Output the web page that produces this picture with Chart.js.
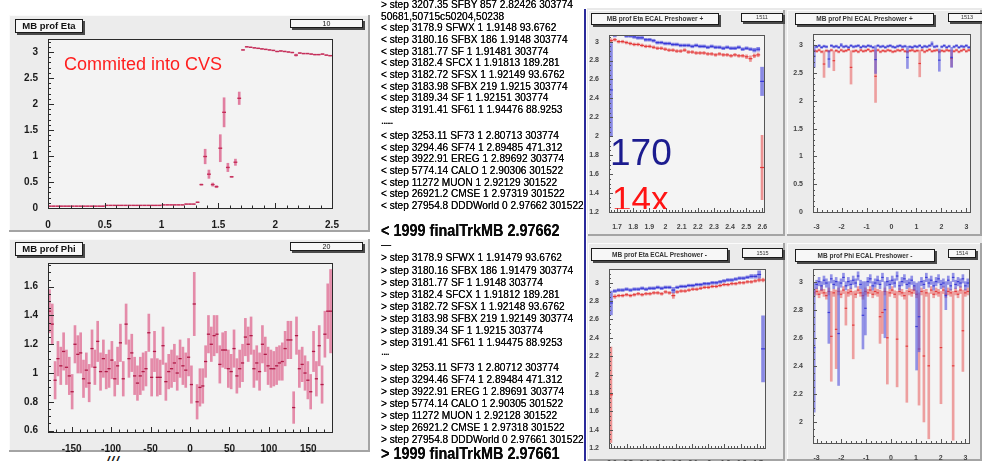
<!DOCTYPE html>
<html>
<head>
<meta charset="utf-8">
<script src="https://cdn.jsdelivr.net/npm/chart.js@4.4.1/dist/chart.umd.min.js"></script>
<style>
body{margin:0;width:982px;height:461px;overflow:hidden;background:#fff;position:relative;font-family:"Liberation Sans",Arial,sans-serif}
canvas{position:absolute}
.box{position:absolute;background:#f7f7f7;border:1px solid #1b1b1b;box-shadow:2px 2px 0 #4a4a4a;text-align:center;white-space:nowrap;overflow:hidden;color:#111}
#log{position:absolute;left:381px;top:0;width:203px;height:461px;overflow:hidden;color:#0a0a0a}
#log div{position:absolute;left:0;white-space:nowrap;transform-origin:0 50%;text-shadow:0 0 0.5px #000}
.small{font-size:11px;line-height:12px;transform:scaleX(.92)}
.big{font-size:16.5px;line-height:18px;font-weight:bold;transform:scaleX(.875)}
.note{position:absolute;white-space:nowrap}
</style>
</head>
<body>

<!-- right hand ROOT canvas background -->
<div style="position:absolute;left:587px;top:8px;width:395px;height:453px;background:#e9e9e9"></div>
<div style="position:absolute;left:584px;top:9px;width:2px;height:452px;background:#2b2b9b"></div>

<canvas id="cEta" width="361" height="217" style="left:9px;top:15px"></canvas>
<canvas id="cPhi" width="361" height="213" style="left:9px;top:239px"></canvas>
<canvas id="cEtaP" width="197" height="226" style="left:588px;top:10px"></canvas>
<canvas id="cPhiP" width="195" height="226" style="left:787px;top:10px"></canvas>
<canvas id="cEtaM" width="197" height="218" style="left:588px;top:243px"></canvas>
<canvas id="cPhiM" width="195" height="218" style="left:787px;top:243px"></canvas>

<!-- title and stat boxes -->
<div class="box" style="left:15px;top:19px;width:66px;height:12px;font:bold 9.5px/12px 'Liberation Sans',Arial">MB prof Eta</div>
<div class="box" style="left:290px;top:19px;width:71px;height:7px;font:7px/7px 'Liberation Sans',Arial">10</div>
<div class="box" style="left:15px;top:242px;width:66px;height:12px;font:bold 9.5px/12px 'Liberation Sans',Arial">MB prof Phi</div>
<div class="box" style="left:290px;top:242px;width:71px;height:7px;font:7px/7px 'Liberation Sans',Arial">20</div>

<div class="box" style="left:591px;top:13px;width:126px;height:10px;font:bold 6.5px/10px 'Liberation Sans',Arial;color:#333">MB prof Eta ECAL Preshower +</div>
<div class="box" style="left:741px;top:13px;width:40px;height:7px;font:5.5px/7px 'Liberation Sans',Arial;color:#333">1511</div>
<div class="box" style="left:795px;top:13px;width:137px;height:10px;font:bold 6.5px/10px 'Liberation Sans',Arial;color:#333">MB prof Phi ECAL Preshower +</div>
<div class="box" style="left:948px;top:13px;width:36px;height:7px;font:5.5px/7px 'Liberation Sans',Arial;color:#333">1513</div>
<div class="box" style="left:591px;top:248px;width:135px;height:11px;font:bold 6.5px/11px 'Liberation Sans',Arial;color:#333">MB prof Eta ECAL Preshower -</div>
<div class="box" style="left:742px;top:248px;width:39px;height:8px;font:5.5px/8px 'Liberation Sans',Arial;color:#333">1515</div>
<div class="box" style="left:795px;top:249px;width:138px;height:11px;font:bold 6.5px/11px 'Liberation Sans',Arial;color:#333">MB prof Phi ECAL Preshower -</div>
<div class="box" style="left:948px;top:249px;width:26px;height:7px;font:5.5px/7px 'Liberation Sans',Arial;color:#333">1514</div>

<div class="note" style="left:64px;top:55px;font-size:18px;line-height:18px;color:#ff1f1f">Commited into CVS</div>
<div class="note" style="left:610px;top:133.5px;font-size:37px;line-height:37px;color:#1c1c8f">170</div>
<div style="position:absolute;left:600px;top:170px;width:90px;height:39px;overflow:hidden">
  <div class="note" style="left:12px;top:10.5px;font-size:35px;line-height:35px;color:#ff1414">14x</div>
</div>
<div class="note" style="left:106px;top:454px;font:italic bold 13px/13px 'Liberation Sans',Arial;letter-spacing:1px;color:#111">///</div>

<div id="log"></div>

<script>
// ---------------- DATA ----------------

// MB prof Eta : 75 bins between 0 and 2.5
const etaBins = [0, 2.5, 75]
const etaValues = [
  0.035, 0.035, 0.035, 0.035, 0.035, 0.035, 0.035, 0.035, 0.035, 0.035,
  0.035, 0.035, 0.035, 0.035, 0.035, 0.05, 0.05, 0.05, 0.05, 0.05,
  0.05, 0.05, 0.05, 0.05, 0.05, 0.05, 0.05, 0.05, 0.05, 0.05,
  0.06, 0.06, 0.06, 0.06, 0.06, 0.06, 0.075, 0.075, 0.075, 0.11,
  0.45, 0.99, 0.65, 0.45, 0.41, 1.15, 1.84, 0.78, 0.60, 0.88,
  2.11, 3.04, 3.10, 3.09, 3.08, 3.07, 3.06, 3.05, 3.04, 3.03,
  3.01, 3.02, 3.01, 3.00, 2.99, 2.94, 2.98, 2.97, 2.97, 2.96,
  2.95, 2.95, 2.96, 2.94, 2.93
]
const etaErrors = [
  0.004, 0.004, 0.004, 0.004, 0.004, 0.004, 0.004, 0.004, 0.004, 0.004,
  0.004, 0.004, 0.004, 0.004, 0.004, 0.004, 0.004, 0.004, 0.004, 0.004,
  0.004, 0.004, 0.004, 0.004, 0.004, 0.004, 0.004, 0.004, 0.004, 0.004,
  0.004, 0.004, 0.004, 0.004, 0.004, 0.004, 0.004, 0.004, 0.004, 0.006,
  0.01, 0.14, 0.08, 0.03, 0.02, 0.26, 0.28, 0.08, 0.01, 0.06,
  0.12, 0.006, 0.006, 0.006, 0.006, 0.006, 0.006, 0.006, 0.006, 0.006,
  0.006, 0.006, 0.006, 0.006, 0.006, 0.02, 0.006, 0.006, 0.006, 0.006,
  0.006, 0.006, 0.006, 0.006, 0.006
]

// MB prof Phi : 100 bins between -180 and 180
const phiBins = [-180, 180, 100]
const phiValues = [
  1.43, 1.34, 0.95, 1.10, 1.05, 1.15, 1.04, 0.98, 0.87, 1.20,
  1.13, 1.14, 0.96, 1.02, 0.93, 1.17, 1.04, 1.22, 1.01, 1.10,
  1.01, 1.03, 1.09, 0.96, 1.05, 1.21, 0.96, 1.34, 1.10, 1.14,
  0.98, 0.93, 0.98, 1.01, 1.03, 1.28, 0.97, 1.15, 0.97, 0.97,
  1.19, 0.94, 1.01, 1.03, 1.07, 1.00, 1.10, 1.05, 1.02, 1.11,
  0.92, 1.48, 0.80, 0.90, 0.91, 1.08, 1.27, 1.20, 1.26, 1.27,
  1.06, 1.16, 1.16, 1.03, 1.01, 1.17, 0.98, 1.03, 1.07, 1.25,
  1.20, 1.26, 1.03, 1.07, 1.01, 1.20, 1.13, 1.05, 1.03, 1.03,
  1.05, 1.07, 1.08, 1.17, 1.23, 1.23, 0.76, 1.26, 1.03, 1.06,
  1.00, 0.95, 0.87, 1.15, 0.96, 1.19, 0.92, 1.27, 1.43, 1.43
]
const phiErrors = [
  0.15, 0.14, 0.13, 0.12, 0.13, 0.13, 0.12, 0.13, 0.12, 0.13,
  0.13, 0.14, 0.13, 0.12, 0.13, 0.13, 0.12, 0.14, 0.13, 0.13,
  0.12, 0.13, 0.13, 0.12, 0.13, 0.13, 0.12, 0.14, 0.13, 0.13,
  0.13, 0.12, 0.13, 0.13, 0.12, 0.13, 0.13, 0.14, 0.13, 0.12,
  0.13, 0.13, 0.12, 0.13, 0.13, 0.12, 0.13, 0.13, 0.12, 0.13,
  0.13, 0.22, 0.12, 0.13, 0.12, 0.11, 0.13, 0.12, 0.14, 0.13,
  0.13, 0.12, 0.13, 0.13, 0.12, 0.13, 0.12, 0.13, 0.13, 0.13,
  0.12, 0.13, 0.13, 0.12, 0.13, 0.13, 0.12, 0.13, 0.13, 0.12,
  0.13, 0.12, 0.13, 0.12, 0.13, 0.13, 0.11, 0.13, 0.13, 0.12,
  0.12, 0.13, 0.12, 0.14, 0.12, 0.14, 0.13, 0.16, 0.19, 0.29
]

// ECAL Preshower + / - eta profiles : 40 bins, blue = 170, red = 14x
const esEtaPlusBins = [1.65, 2.61, 40]
const esEtaPlusBlue = [
  2.49, 3.07, 3.09, 3.08, 3.06, 3.06, 3.05, 3.04, 3.04, 3.02,
  3.02, 3.01, 2.99, 2.99, 2.98, 2.98, 2.97, 2.97, 2.96, 2.96,
  2.96, 2.95, 2.96, 2.95, 2.95, 2.94, 2.95, 2.94, 2.94, 2.93,
  2.94, 2.93, 2.93, 2.94, 2.92, 2.93, 2.92, 2.91, 2.92, 2.58
]
const esEtaPlusBlueErr = [
  0.49, 0.02, 0.015, 0.015, 0.015, 0.015, 0.015, 0.015, 0.015, 0.015,
  0.015, 0.015, 0.015, 0.015, 0.015, 0.015, 0.015, 0.015, 0.015, 0.015,
  0.015, 0.015, 0.015, 0.015, 0.015, 0.015, 0.015, 0.015, 0.015, 0.015,
  0.015, 0.015, 0.015, 0.015, 0.015, 0.015, 0.015, 0.02, 0.02, 0.15
]
const esEtaPlusRed = [
  3.01, 3.02, 3.00, 3.00, 2.99, 2.98, 2.97, 2.97, 2.96, 2.95,
  2.95, 2.94, 2.93, 2.93, 2.92, 2.91, 2.91, 2.90, 2.90, 2.91,
  2.89, 2.89, 2.88, 2.88, 2.88, 2.87, 2.87, 2.86, 2.87, 2.86,
  2.86, 2.85, 2.86, 2.85, 2.85, 2.84, 2.82, 2.85, 2.86, 1.67
]
const esEtaPlusRedErr = [
  0.02, 0.015, 0.015, 0.015, 0.015, 0.015, 0.015, 0.015, 0.015, 0.015,
  0.015, 0.015, 0.015, 0.015, 0.015, 0.015, 0.015, 0.015, 0.015, 0.015,
  0.015, 0.015, 0.015, 0.015, 0.015, 0.015, 0.015, 0.015, 0.015, 0.015,
  0.015, 0.015, 0.015, 0.015, 0.015, 0.02, 0.03, 0.02, 0.02, 0.34
]
const esEtaMinusBins = [-2.61, -1.65, 40]
const esEtaMinusBlue = [
  2.78, 2.91, 2.92, 2.92, 2.93, 2.92, 2.93, 2.93, 2.94, 2.93,
  2.94, 2.94, 2.95, 2.94, 2.95, 2.95, 2.92, 2.95, 2.96, 2.96,
  2.97, 2.97, 2.98, 2.98, 2.99, 2.99, 3.00, 3.00, 3.01, 3.02,
  3.03, 3.03, 3.04, 3.05, 3.05, 3.06, 3.07, 3.07, 3.09, 2.28
]
const esEtaMinusBlueErr = [
  0.13, 0.015, 0.015, 0.015, 0.015, 0.015, 0.015, 0.015, 0.015, 0.015,
  0.015, 0.015, 0.015, 0.015, 0.015, 0.015, 0.03, 0.015, 0.015, 0.015,
  0.015, 0.015, 0.015, 0.015, 0.015, 0.015, 0.015, 0.015, 0.015, 0.015,
  0.015, 0.015, 0.015, 0.015, 0.015, 0.015, 0.02, 0.02, 0.04, 0.36
]
const esEtaMinusRed = [
  1.78, 2.85, 2.86, 2.86, 2.87, 2.86, 2.87, 2.88, 2.87, 2.88,
  2.88, 2.89, 2.89, 2.88, 2.90, 2.89, 2.86, 2.90, 2.91, 2.91,
  2.92, 2.93, 2.93, 2.94, 2.95, 2.95, 2.96, 2.96, 2.97, 2.98,
  2.98, 2.99, 2.99, 3.00, 3.00, 3.01, 3.01, 3.02, 3.03, 3.03
]
const esEtaMinusRedErr = [
  0.52, 0.02, 0.015, 0.015, 0.015, 0.015, 0.015, 0.015, 0.015, 0.015,
  0.015, 0.015, 0.015, 0.015, 0.015, 0.015, 0.03, 0.015, 0.015, 0.015,
  0.015, 0.015, 0.015, 0.015, 0.015, 0.015, 0.015, 0.015, 0.015, 0.015,
  0.015, 0.015, 0.015, 0.015, 0.015, 0.015, 0.015, 0.015, 0.02, 0.02
]

// ECAL Preshower + / - phi profiles : 64 bins between -pi and pi
const esPhiBins = [-Math.PI, Math.PI, 64]
const esPhiPlusBlue = [
  2.80, 2.97, 2.99, 2.96, 2.98, 2.97, 2.75, 2.99, 2.97, 2.98,
  2.96, 3.00, 2.97, 2.98, 2.96, 2.99, 2.97, 2.98, 2.99, 2.96,
  2.98, 2.97, 2.99, 2.98, 2.96, 2.74, 2.99, 2.97, 2.98, 2.96,
  2.98, 2.99, 2.97, 2.96, 2.98, 2.99, 2.97, 2.98, 2.78, 2.97,
  2.96, 2.98, 2.97, 2.99, 2.96, 2.98, 2.97, 2.99, 3.02, 2.97,
  2.98, 2.73, 2.97, 2.99, 2.96, 2.98, 2.78, 2.97, 2.99, 2.96,
  2.98, 2.97, 2.99, 2.96
]
const esPhiPlusBlueErr = [
  0.20, 0.02, 0.02, 0.02, 0.02, 0.02, 0.15, 0.02, 0.02, 0.02,
  0.02, 0.03, 0.02, 0.02, 0.02, 0.02, 0.02, 0.02, 0.02, 0.02,
  0.02, 0.02, 0.02, 0.02, 0.02, 0.25, 0.02, 0.02, 0.02, 0.02,
  0.02, 0.02, 0.02, 0.02, 0.02, 0.02, 0.02, 0.02, 0.20, 0.02,
  0.02, 0.02, 0.02, 0.02, 0.02, 0.02, 0.02, 0.02, 0.04, 0.02,
  0.02, 0.20, 0.02, 0.02, 0.02, 0.02, 0.18, 0.02, 0.02, 0.02,
  0.02, 0.02, 0.02, 0.02
]
const esPhiPlusRed = [
  2.90, 2.89, 2.91, 2.88, 2.66, 2.90, 2.89, 2.91, 2.72, 2.90,
  2.88, 2.91, 2.89, 2.90, 2.92, 2.60, 2.89, 2.90, 2.88, 2.91,
  2.89, 2.90, 2.92, 2.89, 2.90, 2.44, 2.91, 2.88, 2.90, 2.89,
  2.91, 2.90, 2.88, 2.89, 2.91, 2.90, 2.92, 2.89, 2.88, 2.90,
  2.91, 2.89, 2.90, 2.67, 2.91, 2.88, 2.90, 2.92, 2.89, 2.90,
  2.91, 2.88, 2.90, 2.89, 2.91, 2.90, 2.76, 2.89, 2.91, 2.88,
  2.90, 2.92, 2.89, 2.91
]
const esPhiPlusRedErr = [
  0.02, 0.02, 0.02, 0.02, 0.24, 0.02, 0.02, 0.02, 0.18, 0.02,
  0.02, 0.02, 0.02, 0.02, 0.02, 0.30, 0.02, 0.02, 0.02, 0.02,
  0.02, 0.02, 0.02, 0.02, 0.02, 0.47, 0.02, 0.02, 0.02, 0.02,
  0.02, 0.02, 0.02, 0.02, 0.02, 0.02, 0.02, 0.02, 0.02, 0.02,
  0.02, 0.02, 0.02, 0.24, 0.02, 0.02, 0.02, 0.02, 0.02, 0.02,
  0.02, 0.02, 0.02, 0.02, 0.02, 0.02, 0.15, 0.02, 0.02, 0.02,
  0.02, 0.02, 0.02, 0.02
]
const esPhiMinusBlue = [
  2.53, 2.98, 3.00, 2.97, 3.01, 2.99, 2.78, 3.02, 2.98, 3.00,
  2.63, 2.99, 3.03, 2.97, 3.00, 2.98, 3.01, 2.99, 3.04, 2.98,
  2.76, 2.81, 3.00, 3.02, 2.97, 2.99, 3.01, 2.98, 3.03, 2.80,
  3.00, 2.98, 3.01, 2.99, 3.04, 2.97, 3.00, 3.02, 2.98, 2.99,
  3.01, 2.97, 2.68, 2.75, 3.00, 2.98, 3.03, 2.99, 3.01, 2.97,
  3.00, 3.02, 2.98, 2.99, 2.90, 3.01, 2.97, 3.03, 2.98, 3.00,
  2.99, 3.02, 2.97, 2.99
]
const esPhiMinusBlueErr = [
  0.46, 0.03, 0.03, 0.03, 0.03, 0.03, 0.22, 0.03, 0.03, 0.03,
  0.37, 0.03, 0.03, 0.03, 0.03, 0.03, 0.03, 0.03, 0.03, 0.03,
  0.24, 0.19, 0.03, 0.03, 0.03, 0.03, 0.03, 0.03, 0.03, 0.20,
  0.03, 0.03, 0.03, 0.03, 0.03, 0.03, 0.03, 0.03, 0.03, 0.03,
  0.03, 0.03, 0.31, 0.25, 0.03, 0.03, 0.03, 0.03, 0.03, 0.03,
  0.03, 0.03, 0.03, 0.03, 0.10, 0.03, 0.03, 0.03, 0.03, 0.03,
  0.03, 0.03, 0.03, 0.03
]
const esPhiMinusRed = [
  2.92, 2.93, 2.91, 2.94, 2.92, 2.90, 2.93, 2.61, 2.92, 2.66,
  2.93, 2.91, 2.94, 2.81, 2.92, 2.93, 2.69, 2.91, 2.94, 2.92,
  2.90, 2.93, 2.92, 2.94, 2.91, 2.93, 2.92, 2.75, 2.78, 2.93,
  2.60, 2.92, 2.94, 2.91, 2.59, 2.93, 2.92, 2.90, 2.54, 2.93,
  2.92, 2.94, 2.91, 2.52, 2.93, 2.47, 2.92, 2.40, 2.94, 2.91,
  2.93, 2.92, 2.53, 2.94, 2.91, 2.93, 2.92, 2.40, 2.93, 2.91,
  2.94, 2.65, 2.92, 2.93
]
const esPhiMinusRedErr = [
  0.025, 0.025, 0.025, 0.025, 0.025, 0.025, 0.025, 0.32, 0.025, 0.28,
  0.025, 0.025, 0.025, 0.12, 0.025, 0.025, 0.24, 0.025, 0.025, 0.025,
  0.025, 0.025, 0.025, 0.025, 0.025, 0.025, 0.025, 0.19, 0.15, 0.025,
  0.33, 0.025, 0.025, 0.025, 0.34, 0.025, 0.025, 0.025, 0.40, 0.025,
  0.025, 0.025, 0.025, 0.40, 0.025, 0.47, 0.025, 0.52, 0.025, 0.025,
  0.025, 0.025, 0.40, 0.025, 0.025, 0.025, 0.025, 0.53, 0.025, 0.025,
  0.025, 0.29, 0.025, 0.025
]

// text of the diff in the middle (text, centre y, style)
const logLines = [
  ['> step 3207.35 SFBY 857 2.82426 303774', 4, 'small'],
  ['50681,50715c50204,50238', 15.7, 'small'],
  ['< step 3178.9 SFWX 1 1.9148 93.6762', 27.3, 'small'],
  ['< step 3180.16 SFBX 186 1.9148 303774', 39, 'small'],
  ['< step 3181.77 SF 1 1.91481 303774', 50.7, 'small'],
  ['< step 3182.4 SFCX 1 1.91813 189.281', 62.3, 'small'],
  ['< step 3182.72 SFSX 1 1.92149 93.6762', 74, 'small'],
  ['< step 3183.98 SFBX 219 1.9215 303774', 85.7, 'small'],
  ['< step 3189.34 SF 1 1.92151 303774', 97.3, 'small'],
  ['< step 3191.41 SF61 1 1.94476 88.9253', 109, 'small'],
  ['......', 119.5, 'dots'],
  ['< step 3253.11 SF73 1 2.80713 303774', 135, 'small'],
  ['< step 3294.46 SF74 1 2.89485 471.312', 146.7, 'small'],
  ['< step 3922.91 EREG 1 2.89692 303774', 158.3, 'small'],
  ['< step 5774.14 CALO 1 2.90306 301522', 170, 'small'],
  ['< step 11272 MUON 1 2.92129 301522', 181.7, 'small'],
  ['< step 26921.2 CMSE 1 2.97319 301522', 193.3, 'small'],
  ['< step 27954.8 DDDWorld 0 2.97662 301522', 205, 'small'],
  ['< 1999 finalTrkMB 2.97662', 230, 'big'],
  ['\u2014', 243.5, 'small'],
  ['> step 3178.9 SFWX 1 1.91479 93.6762', 257, 'small'],
  ['> step 3180.16 SFBX 186 1.91479 303774', 269.5, 'small'],
  ['> step 3181.77 SF 1 1.9148 303774', 281.7, 'small'],
  ['> step 3182.4 SFCX 1 1.91812 189.281', 293.5, 'small'],
  ['> step 3182.72 SFSX 1 1.92148 93.6762', 305.7, 'small'],
  ['> step 3183.98 SFBX 219 1.92149 303774', 317.7, 'small'],
  ['> step 3189.34 SF 1 1.9215 303774', 329.5, 'small'],
  ['> step 3191.41 SF61 1 1.94475 88.9253', 341.7, 'small'],
  ['....', 350.5, 'dots'],
  ['> step 3253.11 SF73 1 2.80712 303774', 366.7, 'small'],
  ['> step 3294.46 SF74 1 2.89484 471.312', 378.5, 'small'],
  ['> step 3922.91 EREG 1 2.89691 303774', 390.5, 'small'],
  ['> step 5774.14 CALO 1 2.90305 301522', 402.7, 'small'],
  ['> step 11272 MUON 1 2.92128 301522', 414.5, 'small'],
  ['> step 26921.2 CMSE 1 2.97318 301522', 426.7, 'small'],
  ['> step 27954.8 DDDWorld 0 2.97661 301522', 438.5, 'small'],
  ['> 1999 finalTrkMB 2.97661', 453, 'big']
]

// ---------------- TEXT COLUMN ----------------
const log = document.getElementById('log')
for (let i = 0; i < logLines.length; i++) {
  const d = document.createElement('div')
  const kind = logLines[i][2]
  d.textContent = logLines[i][0]
  if (kind == 'big') {
    d.className = 'big'
    d.style.top = (logLines[i][1] - 8.8) + 'px'
  } else {
    d.className = 'small'
    d.style.top = (logLines[i][1] - 5.9) + 'px'
    if (kind == 'dots') d.style.letterSpacing = '-1px'
  }
  log.appendChild(d)
}

// ---------------- CHARTS ----------------

// ROOT like pad: grey pad, frame, ticks pointing inside the frame
function drawTicks(ctx, scale, area, minor, len, dir) {
  const major = scale.ticks.map(t => t.value)
  if (major.length < 2) return
  const step = (major[1] - major[0]) / minor
  ctx.beginPath()
  for (let k = -2 * minor; k <= (major.length + 1) * minor; k++) {
    const v = major[0] + k * step
    if (v < scale.min - 1e-9 || v > scale.max + 1e-9) continue
    const p = Math.round(scale.getPixelForValue(v)) + 0.5
    const l = (k % minor === 0) ? len : len / 2
    if (dir == 'x') { ctx.moveTo(p, area.bottom); ctx.lineTo(p, area.bottom - l) }
    else { ctx.moveTo(area.left, p); ctx.lineTo(area.left + l, p) }
  }
  ctx.stroke()
}

const rootFrame = {
  id: 'rootFrame',
  beforeDraw(chart, args, o) {
    const ctx = chart.ctx
    const a = chart.chartArea
    ctx.save()
    ctx.fillStyle = o.pad
    ctx.fillRect(0, 0, chart.width, chart.height)
    // bevel of the pad
    ctx.fillStyle = '#fbfbfb'
    ctx.fillRect(0, 0, chart.width, 1)
    ctx.fillRect(0, 0, 1, chart.height)
    ctx.fillStyle = '#a4a4a4'
    ctx.fillRect(0, chart.height - 2, chart.width, 2)
    ctx.fillRect(chart.width - 2, 0, 2, chart.height)
    ctx.fillStyle = o.inner
    ctx.fillRect(a.left, a.top, a.right - a.left, a.bottom - a.top)
    ctx.restore()
  },
  afterDraw(chart, args, o) {
    const ctx = chart.ctx
    const a = chart.chartArea
    ctx.save()
    ctx.strokeStyle = o.line
    ctx.lineWidth = 1
    ctx.strokeRect(Math.round(a.left) + 0.5, Math.round(a.top) + 0.5, Math.round(a.right - a.left), Math.round(a.bottom - a.top))
    drawTicks(ctx, chart.scales.x, a, o.minorX, o.tickX, 'x')
    drawTicks(ctx, chart.scales.y, a, o.minorY, o.tickY, 'y')
    ctx.restore()
  }
}

function binCenters(bins) {
  const w = (bins[1] - bins[0]) / bins[2]
  const c = []
  for (let i = 0; i < bins[2]; i++) c.push(bins[0] + w * (i + 0.5))
  return c
}

// one profile = floating bars for the errors + short horizontal marks for the bin contents
function profile(bins, values, errors, st) {
  const xs = binCenters(bins)
  return [
    {
      type: 'bar',
      data: xs.map((x, i) => ({x: x, y: [values[i] - errors[i], values[i] + errors[i]]})),
      backgroundColor: st.bar,
      barThickness: st.thick,
      borderWidth: 0,
      grouped: false,
      order: st.order + 1
    },
    {
      type: 'scatter',
      data: xs.map((x, i) => ({x: x, y: values[i]})),
      pointStyle: 'line',
      pointRadius: st.half,
      pointBorderColor: st.mark,
      pointBorderWidth: st.lw,
      showLine: false,
      order: st.order
    }
  ]
}

const fmt = v => String(+v.toFixed(2))

function makePanel(id, datasets, ax, frame, look) {
  return new Chart(document.getElementById(id), {
    type: 'scatter',
    data: {datasets: datasets},
    plugins: [rootFrame],
    options: {
      responsive: false,
      animation: false,
      events: [],
      layout: {padding: {top: frame.top, right: frame.right, left: 0, bottom: 0}},
      plugins: {
        legend: {display: false},
        tooltip: {enabled: false},
        rootFrame: {pad: look.pad, inner: look.inner, line: look.line,
          minorX: ax.minorX, minorY: ax.minorY, tickX: look.tickX, tickY: look.tickY}
      },
      scales: {
        x: {
          type: 'linear', min: ax.xMin, max: ax.xMax, offset: false,
          grid: {display: false}, border: {display: false},
          ticks: {stepSize: ax.xStep, includeBounds: false, autoSkip: false, maxRotation: 0,
            padding: look.padX, color: look.text, font: look.font, callback: fmt},
          afterFit: s => { s.height = frame.bottom }
        },
        y: {
          type: 'linear', min: ax.yMin, max: ax.yMax,
          grid: {display: false}, border: {display: false},
          ticks: {stepSize: ax.yStep, includeBounds: false, autoSkip: false,
            padding: look.padY, color: look.text, font: look.font, callback: fmt},
          afterFit: s => { s.width = frame.left }
        }
      }
    }
  })
}

const bigLook = {pad: '#ececec', inner: '#f3f3f3', line: '#2a2a2a', text: '#1a1a1a',
  font: {family: 'Liberation Sans', size: 10, weight: 'bold'}, padX: 3, padY: 2, tickX: 5, tickY: 6}
const smallLook = {pad: '#ebebeb', inner: '#f4f4f4', line: '#555555', text: '#444444',
  font: {family: 'Liberation Sans', size: 7, weight: 'bold'}, padX: 3, padY: 2, tickX: 4, tickY: 4}

const pinkStyle = {bar: 'rgba(221,105,145,0.85)', thick: 2, mark: 'rgb(196,45,88)', half: 1.9, lw: 1.4, order: 0}
const pinkPhiStyle = {bar: 'rgba(224,112,150,0.8)', thick: 2, mark: 'rgb(176,25,70)', half: 1.6, lw: 1.3, order: 0}
const blueEta = {bar: 'rgba(80,80,220,0.65)', thick: 3, mark: 'rgb(55,55,215)', half: 1.95, lw: 1.2, order: 0}
const redEta = {bar: 'rgba(230,80,80,0.6)', thick: 2, mark: 'rgb(228,55,55)', half: 1.95, lw: 1.2, order: 2}
const bluePhi = {bar: 'rgba(80,80,220,0.6)', thick: 2, mark: 'rgb(60,60,215)', half: 1.25, lw: 1.2, order: 0}
const redPhi = {bar: 'rgba(232,90,90,0.55)', thick: 2, mark: 'rgb(228,60,60)', half: 1.25, lw: 1.2, order: 2}

makePanel('cEta', profile(etaBins, etaValues, etaErrors, pinkStyle),
  {xMin: 0, xMax: 2.5, xStep: 0.5, yMin: 0, yMax: 3.25, yStep: 0.5, minorX: 5, minorY: 5},
  {left: 39, top: 24, right: 38, bottom: 24}, bigLook)

makePanel('cPhi', profile(phiBins, phiValues, phiErrors, pinkPhiStyle),
  {xMin: -180, xMax: 180, xStep: 50, yMin: 0.59, yMax: 1.765, yStep: 0.2, minorX: 5, minorY: 4},
  {left: 39, top: 24, right: 38, bottom: 20}, bigLook)

makePanel('cEtaP',
  profile(esEtaPlusBins, esEtaPlusBlue, esEtaPlusBlueErr, blueEta).concat(
  profile(esEtaPlusBins, esEtaPlusRed, esEtaPlusRedErr, redEta)),
  {xMin: 1.65, xMax: 2.61, xStep: 0.1, yMin: 1.2, yMax: 3.07, yStep: 0.2, minorX: 5, minorY: 4},
  {left: 21, top: 25, right: 21, bottom: 24}, smallLook)

makePanel('cPhiP',
  profile(esPhiBins, esPhiPlusBlue, esPhiPlusBlueErr, bluePhi).concat(
  profile(esPhiBins, esPhiPlusRed, esPhiPlusRedErr, redPhi)),
  {xMin: -Math.PI, xMax: Math.PI, xStep: 1, yMin: 0, yMax: 3.2, yStep: 0.5, minorX: 5, minorY: 5},
  {left: 26, top: 24, right: 12, bottom: 24}, smallLook)

makePanel('cEtaM',
  profile(esEtaMinusBins, esEtaMinusBlue, esEtaMinusBlueErr, blueEta).concat(
  profile(esEtaMinusBins, esEtaMinusRed, esEtaMinusRedErr, redEta)),
  {xMin: -2.61, xMax: -1.65, xStep: 0.1, yMin: 1.2, yMax: 3.15, yStep: 0.2, minorX: 5, minorY: 4},
  {left: 21, top: 26, right: 20, bottom: 13}, smallLook)

makePanel('cPhiM',
  profile(esPhiBins, esPhiMinusBlue, esPhiMinusBlueErr, bluePhi).concat(
  profile(esPhiBins, esPhiMinusRed, esPhiMinusRedErr, redPhi)),
  {xMin: -Math.PI, xMax: Math.PI, xStep: 1, yMin: 1.85, yMax: 3.09, yStep: 0.2, minorX: 5, minorY: 4},
  {left: 26, top: 26, right: 13, bottom: 18}, smallLook)
</script>
</body>
</html>
